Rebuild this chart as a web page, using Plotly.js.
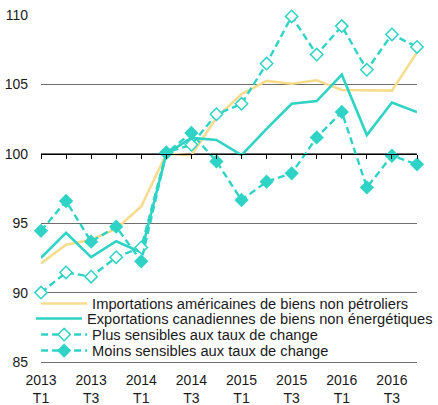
<!DOCTYPE html>
<html>
<head>
<meta charset="utf-8">
<script src="https://cdn.plot.ly/plotly-3.0.1.min.js"></script>
<style>html,body{margin:0;padding:0;background:#fff;}#chart{width:438px;height:405px;}</style>
</head>
<body>
<div id="chart"></div>
<script>
const quarters = ["2013 T1","2013 T2","2013 T3","2013 T4","2014 T1","2014 T2","2014 T3","2014 T4",
                  "2015 T1","2015 T2","2015 T3","2015 T4","2016 T1","2016 T2","2016 T3","2016 T4"];
const importsUS = [92.1, 93.45, 93.8, 94.6, 96.2, 100.0, 99.9, 102.6, 104.3, 105.25, 105.05, 105.3, 104.6, 104.55, 104.55, 107.3];
const exportsCA = [92.5, 94.3, 92.55, 93.7, 92.9, 100.0, 101.15, 101.0, 99.9, 101.8, 103.6, 103.8, 105.7, 101.35, 103.7, 103.0];
const plusSens  = [90.0, 91.45, 91.15, 92.55, 93.25, 100.1, 100.65, 102.85, 103.6, 106.5, 109.9, 107.15, 109.2, 106.05, 108.6, 107.7];
const moinsSens = [94.45, 96.6, 93.67, 94.75, 92.25, 100.05, 101.5, 99.45, 96.67, 97.99, 98.59, 101.18, 103.02, 97.58, 99.86, 99.24];
const names = ["Importations américaines de biens non pétroliers",
               "Exportations canadiennes de biens non énergétiques",
               "Plus sensibles aux taux de change",
               "Moins sensibles aux taux de change"];
const yTicks = [85, 90, 95, 100, 105, 110];

const idx = quarters.map((q, i) => i);
const labelIdx = idx.filter(i => i % 2 === 0);
const labelText = labelIdx.map(i => quarters[i].replace(" ", "<br>"));

const teal = "#2fd3c5";
const yellow = "#f8dc8e";

const traces = [
  {x: idx, y: importsUS, name: names[0], type: "scatter", mode: "lines", xaxis: "x", legend: "legend",
   line: {color: yellow, width: 2.6}},
  {x: idx, y: exportsCA, name: names[1], type: "scatter", mode: "lines", xaxis: "x2", legend: "legend2",
   line: {color: teal, width: 2.6}},
  {x: idx, y: plusSens, name: names[2], type: "scatter", mode: "lines+markers", xaxis: "x2", cliponaxis: false,
   legend: "legend3",
   line: {color: teal, width: 2.4, dash: "7px,4px"},
   marker: {symbol: "diamond", size: 9.5, color: "#ffffff", line: {color: teal, width: 1.5}}},
  {x: idx, y: moinsSens, name: names[3], type: "scatter", mode: "lines+markers", xaxis: "x2", cliponaxis: false,
   legend: "legend4",
   line: {color: teal, width: 2.4, dash: "7px,4px"},
   marker: {symbol: "diamond", size: 11, color: teal, line: {color: teal, width: 0}}}
];

const legendFont = {size: 14.67, color: "#1a1a1a"};
function leg(y) {
  return {x: -0.013, y: y, xanchor: "left", yanchor: "middle", bgcolor: "rgba(0,0,0,0)",
          font: legendFont, itemwidth: 46, borderwidth: 0};
}

const layout = {
  width: 438, height: 405,
  margin: {l: 41, r: 21, t: 15, b: 43, pad: 0},
  paper_bgcolor: "#ffffff", plot_bgcolor: "#ffffff",
  font: {family: "Liberation Sans, Arial, sans-serif", size: 14, color: "#1a1a1a"},
  showlegend: true,
  legend: leg(0.1671),
  legend2: leg(0.1239),
  legend3: leg(0.0778),
  legend4: leg(0.0317),
  xaxis: {range: [0, 15], tickvals: labelIdx, ticktext: labelText, showgrid: false, zeroline: false,
          showline: true, linecolor: "#6e6e6e", linewidth: 1.3, ticks: "", tickfont: {size: 14},
          ticklabelstandoff: 5},
  xaxis2: {range: [0, 15], overlaying: "x", anchor: "free", position: 0.6, side: "bottom",
           tickvals: idx, showticklabels: false, showgrid: false, zeroline: false,
           showline: true, linecolor: "#000000", linewidth: 1.2,
           ticks: "outside", ticklen: 4, tickwidth: 1, tickcolor: "#000000"},
  yaxis: {range: [85, 110], tickvals: yTicks, showgrid: true, gridcolor: "#6e6e6e", gridwidth: 1.3,
          zeroline: false, showline: false, ticks: "", ticklabelstandoff: 12, tickfont: {size: 14}}
};

Plotly.newPlot("chart", traces, layout, {displayModeBar: false, staticPlot: true});
</script>
</body>
</html>
